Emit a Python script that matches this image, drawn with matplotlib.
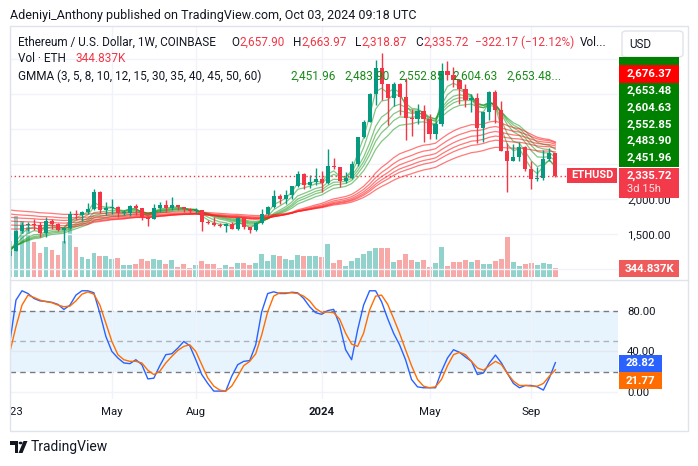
import matplotlib
matplotlib.use("Agg")
import matplotlib.pyplot as plt
from matplotlib.patches import Rectangle, FancyBboxPatch, Polygon, Circle
from matplotlib.lines import Line2D
from matplotlib.transforms import Bbox, TransformedBbox
import numpy as np

W, H = 698, 466

# weekly ETH/USD candles, first bar = week of Jan 2 2023
opens = [1196, 1264, 1551, 1628, 1645, 1630, 1515, 1690, 1640, 1565,
         1590, 1790, 1775, 1820, 1860, 2100, 1850, 1870, 1890, 1800,
         1810, 1900, 1870, 1740, 1720, 1880, 1915, 1870, 1915, 1885,
         1860, 1830, 1845, 1670, 1655, 1630, 1615, 1640, 1580, 1735,
         1600, 1560, 1660, 1790, 1890, 2050, 2010, 2060, 2190, 2360,
         2200, 2240, 2290, 2230, 2470, 2455, 2260, 2300, 2500, 2890,
         3110, 3500, 3880, 3640, 3450, 3645, 3466, 3157, 3150, 3260,
         3140, 2930, 3070, 3830, 3780, 3700, 3570, 3420, 3440, 3020,
         3250, 3530, 3270, 2690, 2550, 2610, 2750, 2430, 2290, 2300,
         2580, 2657.90]
highs = [1300, 1565, 1680, 1675, 1715, 1670, 1740, 1720, 1665, 1600,
         1835, 1845, 1835, 1945, 2140, 2125, 1960, 2010, 1900, 1850,
         1920, 1930, 1880, 1760, 1935, 1955, 1990, 2030, 1920, 1890,
         1870, 1870, 1850, 1700, 1745, 1660, 1660, 1670, 1750, 1750,
         1610, 1670, 1860, 1900, 2135, 2080, 2130, 2175, 2400, 2370,
         2340, 2445, 2400, 2715, 2595, 2460, 2390, 2540, 2890, 3130,
         3520, 3995, 4093, 3650, 3680, 3665, 3730, 3290, 3355, 3350,
         3220, 3125, 3950, 3975, 3890, 3715, 3640, 3500, 3525, 3250,
         3540, 3560, 3400, 2800, 2790, 2820, 2760, 2550, 2460, 2700,
         2730, 2663.97]
lows = [1190, 1260, 1515, 1545, 1560, 1460, 1460, 1580, 1540, 1370,
        1580, 1715, 1690, 1790, 1850, 1800, 1780, 1790, 1740, 1780,
        1760, 1780, 1710, 1625, 1715, 1820, 1820, 1850, 1850, 1825,
        1810, 1800, 1550, 1640, 1620, 1600, 1530, 1570, 1560, 1580,
        1520, 1540, 1650, 1770, 1880, 1930, 1935, 2000, 2180, 2150,
        2160, 2200, 2100, 2220, 2430, 2170, 2230, 2290, 2470, 2870,
        3110, 3350, 3420, 3060, 3330, 3210, 2850, 2910, 3070, 2815,
        2860, 2860, 3050, 3700, 3600, 3360, 3320, 3240, 2810, 2820,
        3130, 3090, 2690, 2110, 2550, 2540, 2400, 2150, 2260, 2270,
        2540, 2318.87]
closes = [1264, 1551, 1628, 1645, 1630, 1515, 1690, 1640, 1565, 1590,
          1790, 1775, 1820, 1860, 2100, 1850, 1870, 1890, 1800, 1810,
          1900, 1870, 1740, 1720, 1880, 1915, 1870, 1915, 1885, 1860,
          1830, 1845, 1670, 1655, 1630, 1615, 1640, 1580, 1735, 1600,
          1560, 1660, 1790, 1890, 2050, 2010, 2060, 2190, 2360, 2200,
          2240, 2290, 2230, 2470, 2455, 2260, 2300, 2500, 2890, 3110,
          3500, 3880, 3640, 3450, 3645, 3466, 3157, 3150, 3260, 3140,
          2930, 3070, 3830, 3780, 3700, 3570, 3420, 3440, 3020, 3250,
          3530, 3270, 2690, 2550, 2610, 2750, 2430, 2290, 2300, 2580,
          2658, 2335.72]
volume_k = [1405, 2363, 2172, 1915, 1367, 919, 1149, 1061, 869, 1406,
            1915, 1149, 766, 716, 946, 804, 831, 716, 755, 486,
            486, 525, 716, 640, 716, 678, 525, 678, 410, 525,
            372, 460, 624, 509, 509, 345, 471, 383, 548, 548,
            471, 548, 892, 624, 854, 816, 701, 663, 854, 816,
            816, 816, 766, 1275, 555, 663, 421, 613, 747, 908,
            1015, 1111, 1111, 1111, 601, 663, 892, 663, 601, 663,
            383, 563, 1149, 433, 601, 601, 663, 601, 663, 509,
            509, 640, 701, 1532, 601, 433, 509, 563, 471, 563,
            509, 344.837]
stoch_k = [49.8, 90.8, 100, 97.3, 92.4, 90, 89.5, 88.5, 86.5, 81.5,
           85.8, 95.7, 100, 100, 98, 77.6, 54.7, 39.9, 33.4, 28.5,
           27.8, 31.7, 26.8, 12.7, 13.4, 25.8, 36.7, 37.6, 43.2, 49.8,
           45.5, 31.7, 17, 8.2, 0.6, 0.6, 0.6, 15.4, 26.8, 30.1,
           30.8, 46.5, 79.3, 97.3, 99, 97.3, 97.3, 98.6, 98, 92.4,
           84.2, 78.3, 76.7, 80.3, 81.6, 66.2, 41.6, 31.7, 61.2, 85.8,
           100, 100, 89.2, 72.7, 58, 46.5, 31.7, 12.1, 4.8, 3.9,
           3.9, 3.9, 20.3, 33.4, 41.6, 39, 34.4, 30.1, 17, 18.6,
           28.5, 36.3, 28.5, 18, 8.2, 3.9, 6.2, 6.2, 4.8, 1.6,
           13.7, 28.82]
stoch_d = [39.9, 64.5, 85.8, 95.7, 93.4, 90.8, 89.2, 88.2, 85.8, 84.2,
           84.8, 90, 96.6, 98.9, 96.6, 85.8, 67.8, 49.8, 36.7, 31.7,
           30.1, 30.1, 28.5, 21.3, 17, 20.3, 28.5, 35, 40.9, 44.9,
           46.5, 39.9, 26.8, 13.7, 5.6, 1.6, 0.6, 5.6, 15.4, 25.8,
           30.1, 37.6, 56.3, 79.3, 94.7, 98, 98, 98, 97.3, 94.7,
           90, 82.5, 78.6, 78.9, 78.3, 72, 58, 47.2, 44.9, 58,
           80.9, 94.7, 95.7, 86.8, 72.7, 58, 41.6, 25.8, 12.1, 5.5,
           3.9, 4.9, 12.1, 25.8, 36.7, 39, 36.7, 30.1, 23.5, 21.3,
           25.8, 30.1, 26.8, 18, 10.5, 6.2, 6.2, 5.5, 5.5, 8.2,
           15.4, 21.77]

short_periods = [3, 5, 8, 10, 12, 15]
long_periods = [30, 35, 40, 45, 50, 60]
short_seed = [1250, 1260, 1275, 1285, 1295, 1310]
long_seed = [1576, 1633, 1690, 1743, 1790, 1847]

month_ticks = [0, 17, 31, 52, 70, 87]
month_labels = ["2023", "May", "Aug", "2024", "May", "Sep"]
price_ticks = [1000, 1500, 2000, 2500, 3000, 3500, 4000]
# only these two scale labels peek out from behind the value tags
price_tick_labels = ["", "1,500.00", "2,000.00", "", "", "", ""]

GREEN = "#089981"
RED = "#f23645"
TXT = "#131722"
GRID = "#f0f3fa"

plt.rcParams["font.family"] = ["Roboto", "DejaVu Sans"]


def fx(x):
    return x / W


def fy(y):
    return 1 - y / H


def ema(values, period, seed):
    alpha = 2 / (period + 1)
    out = [seed]
    for v in values[1:]:
        out.append(out[-1] + alpha * (v - out[-1]))
    return out


fig = plt.figure(figsize=(W / 100, H / 100), dpi=100)
fig.patch.set_facecolor("white")


def box(x0, y0, x1, y1, color):
    fig.add_artist(Rectangle((fx(x0), fy(y1)), (x1 - x0) / W, (y1 - y0) / H,
                             transform=fig.transFigure, facecolor=color,
                             edgecolor="none", zorder=5))


def label(x, y, s, color=TXT, size=8.5, **kw):
    fig.text(fx(x), fy(y), s, color=color, fontsize=size, va="center", zorder=6, **kw)


n = len(closes)
idx = np.arange(n)
o = np.array(opens)
c = np.array(closes)
up = c >= o
colors = np.where(up, GREEN, RED)
xlim = (0.117, 101.45)

# ---- main pane: volume underneath, price on top
ax = fig.add_axes([fx(10), fy(279), 608 / W, 253 / H])
axv = ax.twinx()
ax.set_zorder(2)
axv.set_zorder(1)
ax.patch.set_visible(False)

vol_colors = np.where(up, "#92d2cc", "#f7a9a7")
axv.bar(idx, volume_k, width=0.8, color=vol_colors, linewidth=0)
axv.set_ylim(-1.7 * 38.3, 251.3 * 38.3)
axv.axis("off")

for p, s in zip(short_periods, short_seed):
    ax.plot(idx, ema(closes, p, s), color="#1f9a1f", lw=0.9, alpha=0.55, zorder=2)
for p, s in zip(long_periods, long_seed):
    ax.plot(idx, ema(closes, p, s), color="#ff2020", lw=0.9, alpha=0.6, zorder=2)

ax.vlines(idx, lows, highs, colors=colors, lw=1, zorder=3)
body_lo = np.minimum(o, c)
body_h = np.maximum(np.abs(c - o), 14)
ax.bar(idx, body_h, bottom=body_lo, width=0.68, color=colors, linewidth=0, zorder=4)

ax.axhline(closes[-1], xmax=(567 - 10) / 608, color=RED, lw=1, ls=(0, (1, 2)), zorder=3)

ax.set_xlim(*xlim)
ax.set_ylim(861.4, 4475.7)
ax.set_xticks(month_ticks)
ax.set_yticks(price_ticks)
ax.set_yticklabels(price_tick_labels)
ax.yaxis.tick_right()
ax.tick_params(axis="x", length=0, labelbottom=False)
ax.tick_params(axis="y", length=0, pad=6.5, labelsize=8.2, labelcolor=TXT)
ax.grid(True, color=GRID, lw=1, zorder=0)
for sp in ax.spines.values():
    sp.set_visible(False)

# ---- stoch rsi pane
axs = fig.add_axes([fx(10), fy(399), 608 / W, 118 / H])
axs.axhspan(20, 80, color="#2196f3", alpha=0.1, lw=0, zorder=0)
axs.axhline(0, color=GRID, lw=1, zorder=0)
axs.axhline(40, color="#e3e8f0", lw=1, zorder=0)
for lvl, a in [(80, 1.0), (20, 1.0), (50, 0.55)]:
    axs.axhline(lvl, color="#787b86", lw=1, ls=(0, (4, 3)), alpha=a, zorder=1)
axs.plot(idx, stoch_k, color="#2962ff", lw=1, zorder=3)
axs.plot(idx, stoch_d, color="#ff6d00", lw=1, zorder=3)
axs.set_xlim(*xlim)
axs.set_ylim(-7.23, 109.7)
axs.set_xticks(month_ticks)
axs.set_xticklabels(month_labels)
axs.set_yticks([0, 40, 80])
axs.set_yticklabels(["0.00", "40.00", "80.00"])
axs.yaxis.tick_right()
axs.tick_params(axis="y", length=0, pad=6.5, labelsize=8.2, labelcolor=TXT)
axs.tick_params(axis="x", length=0, pad=6.0, labelsize=8.2, labelcolor=TXT)
axs.grid(True, axis="x", color=GRID, lw=1, zorder=0)
for sp in axs.spines.values():
    sp.set_visible(False)
clip = TransformedBbox(Bbox([[0, -2], [1, 2]]), axs.transAxes)
for t in axs.get_xticklabels():
    t.set_clip_on(True)
    t.set_clip_box(clip)
    if t.get_text() == "2024":
        t.set_fontweight("bold")

# ---- frame, separators
fig.add_artist(Rectangle((fx(10), fy(431)), 678 / W, 405 / H, transform=fig.transFigure,
                         facecolor="none", edgecolor="#e0e3eb", lw=1, zorder=4))
fig.add_artist(Line2D([fx(10), fx(688)], [fy(280), fy(280)], transform=fig.transFigure,
                      color="#e0e3eb", lw=1, zorder=4))

# ---- header and legends
label(10, 15, "Adeniyi_Anthony published on TradingView.com, Oct 03, 2024 09:18 UTC", size=9.0)
label(18, 42, "Ethereum / U.S. Dollar, 1W, COINBASE")
for x, s, col in [(231, "O", TXT), (239, "2,657.90", RED), (293, "H", TXT), (301, "2,663.97", RED),
                  (355, "L", TXT), (361, "2,318.87", RED), (415, "C", TXT), (423, "2,335.72", RED),
                  (475, "\u2212322.17 (\u221212.12%)", RED), (580, "Vol...", TXT)]:
    label(x, 42, s, col)
label(18, 59, "Vol \u00b7 ETH")
label(75, 59, "344.837K", RED)
label(18, 76, "GMMA (3, 5, 8, 10, 12, 15, 30, 35, 40, 45, 50, 60)")
for x, s in [(290, "2,451.96"), (344, "2,483.90"), (398, "2,552.85"), (452, "2,604.63"), (506, "2,653.48...")]:
    label(x, 76, s, "#1a8a1a")

# ---- price scale labels
fig.add_artist(FancyBboxPatch((fx(622), fy(57)), 61 / W, 26 / H, boxstyle="round,pad=0,rounding_size=0.006",
                              transform=fig.transFigure, facecolor="white", edgecolor="#e0e3eb", lw=1, zorder=5))
label(629, 44, "USD", size=8.4)
box(619, 57, 679, 65, "#008000")
box(619, 65, 679, 83, "#ff0000")
label(649, 74, "2,676.37", "white", size=8.2, ha="center", fontweight="bold")
box(619, 83, 679, 167, "#008000")
for y, s in [(91, "2,653.48"), (108, "2,604.63"), (124.5, "2,552.85"), (141, "2,483.90"), (158, "2,451.96")]:
    label(649, y, s, "white", size=8.2, ha="center", fontweight="bold")
box(619, 168, 679, 198, "#f23a4a")
label(649, 175.5, "2,335.72", "white", size=8.2, ha="center", fontweight="bold")
label(627, 188.5, "3d 15h", "#fde2e4", size=8.0)
box(567, 168, 617, 183, "#f23a4a")
label(592, 175.5, "ETHUSD", "white", size=8.0, ha="center", fontweight="bold")
box(619, 260, 679, 277, "#ef5b5b")
label(649, 268.5, "344.837K", "white", size=8.2, ha="center", fontweight="bold")
box(619, 355, 662, 372, "#2962ff")
label(640.5, 363.5, "28.82", "white", size=8.2, ha="center", fontweight="bold")
box(619, 372, 662, 389, "#ff6d00")
label(640.5, 380.5, "21.77", "white", size=8.2, ha="center", fontweight="bold")

# ---- TradingView logo
fig.add_artist(Polygon([(fx(10), fy(441)), (fx(18), fy(441)), (fx(18), fy(453)), (fx(14.5), fy(453)),
                        (fx(14.5), fy(445)), (fx(10), fy(445))], closed=True,
                       transform=fig.transFigure, facecolor=TXT, edgecolor="none"))
fig.add_artist(Circle((fx(20.6), fy(443)), 2.0 / W, transform=fig.transFigure, facecolor=TXT, edgecolor="none"))
fig.add_artist(Polygon([(fx(18.5), fy(453)), (fx(22.5), fy(453)), (fx(27.5), fy(441)), (fx(23.5), fy(441))],
                       closed=True, transform=fig.transFigure, facecolor=TXT, edgecolor="none"))
label(31, 447, "TradingView", size=10)

fig.savefig("out.png", dpi=100)
